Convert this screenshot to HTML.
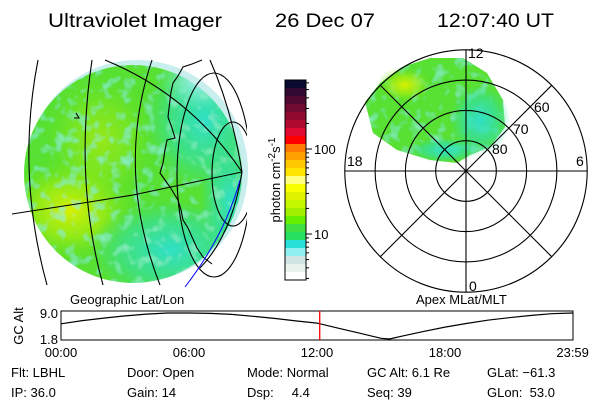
<!DOCTYPE html>
<html><head><meta charset="utf-8">
<style>
html,body{margin:0;padding:0;background:#fff;}
svg{display:block;font-family:"Liberation Sans",sans-serif;}
</style></head>
<body>
<svg width="600" height="400" viewBox="0 0 600 400" xmlns="http://www.w3.org/2000/svg">
<defs>
  <clipPath id="globeClip"><circle cx="133" cy="174" r="109"/></clipPath>
  <clipPath id="gridClip"><rect x="0" y="55" width="247" height="235"/></clipPath>
  <radialGradient id="gYel" cx="0.5" cy="0.5" r="0.5"><stop offset="0" stop-color="#d8f000"/><stop offset="0.5" stop-color="#a8ee10" stop-opacity="0.7"/><stop offset="1" stop-color="#60e020" stop-opacity="0"/></radialGradient>
  <radialGradient id="gCyan" cx="0.5" cy="0.5" r="0.5"><stop offset="0" stop-color="#30e0c8"/><stop offset="0.6" stop-color="#30e0b0" stop-opacity="0.6"/><stop offset="1" stop-color="#30e0a0" stop-opacity="0"/></radialGradient>
  <radialGradient id="gPale" cx="0.5" cy="0.5" r="0.5"><stop offset="0" stop-color="#b0f0f0"/><stop offset="1" stop-color="#80f0f0" stop-opacity="0"/></radialGradient>
  <filter id="mottle" x="0" y="0" width="1" height="1">
    <feTurbulence type="fractalNoise" baseFrequency="0.09" numOctaves="2" seed="3" result="n"/>
    <feColorMatrix in="n" type="matrix" values="0 0 0 0 0.25  0 0 0 0 0.85  0 0 0 0 0.55  0 0 0 -2.5 1.2" result="c"/>
    <feComposite in="c" in2="SourceGraphic" operator="in" result="cc"/>
    <feMerge><feMergeNode in="SourceGraphic"/><feMergeNode in="cc"/></feMerge>
  </filter>
</defs>

<!-- Title -->
<g font-size="19" fill="#000">
  <text x="48" y="27" textLength="174" lengthAdjust="spacingAndGlyphs">Ultraviolet Imager</text>
  <text x="275" y="27" textLength="100" lengthAdjust="spacingAndGlyphs">26 Dec 07</text>
  <text x="437" y="27" textLength="117" lengthAdjust="spacingAndGlyphs">12:07:40 UT</text>
</g>

<!-- Geographic globe image -->
<g>
  <circle cx="137" cy="171" r="111" fill="#c8eeee"/>
  <g clip-path="url(#globeClip)" filter="url(#mottle)">
    <rect x="20" y="60" width="230" height="230" fill="#58e030"/>
    <ellipse cx="70" cy="210" rx="70" ry="55" fill="url(#gYel)"/>
    <ellipse cx="100" cy="140" rx="60" ry="70" fill="url(#gYel)" opacity="0.5"/>
    <ellipse cx="205" cy="120" rx="60" ry="70" fill="url(#gCyan)"/>
    <ellipse cx="170" cy="250" rx="80" ry="50" fill="url(#gCyan)"/>
    <ellipse cx="200" cy="80" rx="40" ry="30" fill="url(#gPale)"/>
    <ellipse cx="230" cy="200" rx="30" ry="60" fill="url(#gCyan)"/>
  </g>
  <g fill="none" stroke="#000" stroke-width="1.1" clip-path="url(#gridClip)">
    <path d="M38,60 Q16,173 47,285"/>
    <path d="M92,60 Q74,180 103,285"/>
    <path d="M152,60 Q115,170 160,285"/>
    <path d="M210,60 Q232,110 242,172"/>
    <path d="M12,214 L83,203 L133,195 L242,172"/>
    <path d="M105,60 Q190,95 242,172"/>
    <ellipse cx="214" cy="175" rx="37" ry="102"/>
    <ellipse cx="233" cy="174" rx="21" ry="52"/>
    <path d="M242,172 Q232,235 200,268" />
    <path d="M202,60 L192,64 L183,67 L178,76 L173,83 L171,92 L170,100 L168,117 L172,128 L175,138 L167,140 L165,150 L163,163 L160,173 L165,180 L170,187 L178,200 L181,210 L183,220 L188,228 L192,237 L197,248 L203,257 L212,264"/>
    <path d="M76,113 L79,118 L74,118" />
  </g>
  <path d="M185,287 Q225,235 240,180" fill="none" stroke="#0000ff" stroke-width="1"/>
</g>

<!-- Colorbar -->
<g id="cbar"></g>
<text transform="translate(280,180) rotate(-90)" text-anchor="middle" font-size="13">photon cm<tspan dy="-5" font-size="10">-2</tspan><tspan dy="5">s</tspan><tspan dy="-5" font-size="10">-1</tspan></text>

<!-- Polar MLat/MLT plot -->
<g>
  <path d="M365,102 L380,83 L402,67 L430,58 L463,58 L487,73 L503,100 L505,127 L490,147 L470,155 L457,163 L430,160 L397,150 L373,133 Z" fill="#58e030" filter="url(#mottle)"/>
  <ellipse cx="405" cy="85" rx="28" ry="18" fill="url(#gYel)"/>
  <ellipse cx="480" cy="120" rx="30" ry="35" fill="url(#gCyan)"/>
  <ellipse cx="445" cy="150" rx="35" ry="12" fill="url(#gCyan)"/>
  <g id="polarGrid" fill="none" stroke="#000" stroke-width="1.1"></g>
  <g font-size="14" fill="#000">
    <text x="468" y="58">12</text>
    <text x="469" y="291">0</text>
    <text x="347" y="166">18</text>
    <text x="576" y="166">6</text>
    <text x="492" y="154">80</text>
    <text x="513" y="134">70</text>
    <text x="534" y="112">60</text>
  </g>
</g>

<text x="70" y="304" font-size="13">Geographic Lat/Lon</text>
<text x="416" y="304" font-size="13">Apex MLat/MLT</text>

<!-- Altitude time series -->
<g>
  <rect x="61" y="311" width="512" height="29" fill="none" stroke="#000" stroke-width="1"/>
  <g id="altLine"></g>
  <text transform="translate(23,326) rotate(-90)" text-anchor="middle" font-size="13">GC Alt</text>
  <g id="altTicks" font-size="13"></g>
</g>

<!-- Footer info -->
<g font-size="13" fill="#000">
  <text x="11" y="377">Flt: LBHL</text>
  <text x="11" y="397">IP: 36.0</text>
  <text x="127" y="377">Door: Open</text>
  <text x="127" y="397">Gain: 14</text>
  <text x="247" y="377">Mode: Normal</text>
  <text x="247" y="397" xml:space="preserve">Dsp:     4.4</text>
  <text x="367" y="377">GC Alt: 6.1 Re</text>
  <text x="367" y="397">Seq: 39</text>
  <text x="487" y="377">GLat: −61.3</text>
  <text x="487" y="397" xml:space="preserve">GLon:  53.0</text>
</g>
</svg>

<script>
const NS = "http://www.w3.org/2000/svg";
// Colorbar bands, top to bottom
const cbarColors = ["#0a0a30","#300a30","#500a30","#700a30","#900a30","#b00a30","#e00a30","#ff0000","#ff7a00","#ffa000","#ffc800","#ffe400","#ffff80","#f8ff00","#e0f200","#c4f800","#a0f000","#64f000","#40e040","#28e060","#28e0d8","#90f0f0","#d0e4e4","#e8f4ec","#ffffff"];
const cbarTickLabels = ["100","10"];
const cbarTickValues = [100, 10];
const cbarMinorValues = [200,300,400,500,600,700,20,30,40,50,60,70,80,90,3,4,5,6,7,8,9];
// Altitude time series
const altHours = [0,1,2,3,4,5,6,7,8,9,10,11,12,13,14,15,15.4,16,17,18,19,20,21,22,23,24];
const altValues = [6.0,6.9,7.6,8.2,8.7,9.0,9.0,8.9,8.6,8.1,7.5,6.8,6.2,4.8,3.4,2.0,1.8,2.6,3.9,5.1,6.1,7.0,7.7,8.3,8.8,9.0];
const altTickLabels = ["9.0","1.8"];
const altTickValues = [9.0,1.8];
const timeTickLabels = ["00:00","06:00","12:00","18:00","23:59"];
const timeTickValues = [0,6,12,18,23.983];
const currentTime = 12 + 7/60 + 40/3600;
const mlatRings = [80,70,60,50];
const mltSpokes = [0,3,6,9,12,15,18,21];

function mk(tag, attrs, parent){const e=document.createElementNS(NS,tag);for(const k in attrs)e.setAttribute(k,attrs[k]);parent.appendChild(e);return e;}

// colorbar
(function(){
  const g=document.getElementById('cbar');
  const x0=285,y0=80,w=21,h=200,bh=h/cbarColors.length;
  cbarColors.forEach((c,i)=>{
    const r=mk('rect',{x:x0,y:(y0+i*bh).toFixed(2),width:w,height:(bh+0.5).toFixed(2),fill:c},g);
    
    
  });
  const f=mk('rect',{x:x0,y:y0,width:w,height:h,fill:'none',stroke:'#000'},g);
  
  
  const lv=v=>234-(Math.log10(v)-1)*85;
  cbarTickValues.forEach((v,i)=>{
    const y=lv(v);
    mk('line',{x1:x0+w,x2:x0+w+6,y1:y,y2:y,stroke:'#000'},g);
    const t=mk('text',{x:x0+w+8,y:y+5,'font-size':13},g);
    t.textContent=cbarTickLabels[i];
    
    
  });
  cbarMinorValues.forEach(v=>{const y=lv(v); if(y>y0&&y<y0+h) mk('line',{x1:x0+w,x2:x0+w+3,y1:y,y2:y,stroke:'#000'},g);});
})();

// polar grid
(function(){
  const g=document.getElementById('polarGrid');
  const cx=466,cy=171,step=30.3;
  const rad=m=>(90-m)*step/10;
  mlatRings.forEach(m=>{
    const c=mk('circle',{cx:cx,cy:cy,r:rad(m)},g);
    
    
  });
  const R=rad(mlatRings[mlatRings.length-1]);
  mltSpokes.forEach(h=>{
    const a=h/24*2*Math.PI;
    const l=mk('line',{x1:cx,y1:cy,x2:(cx+R*Math.sin(a)).toFixed(1),y2:(cy+R*Math.cos(a)).toFixed(1)},g);
    
    
  });
})();

// altitude plot
(function(){
  const g=document.getElementById('altLine');
  const x0=61,x1=573,yT=313,yB=339,vmin=1.8,vmax=9.0;
  const xs=h=>x0+(h/24)*(x1-x0);
  const ys=v=>yB-(v-vmin)/(vmax-vmin)*(yB-yT);
  const d=altHours.map((h,i)=>(i?'L':'M')+xs(h).toFixed(1)+','+ys(altValues[i]).toFixed(1)).join(' ');
  const p=mk('path',{d:d,fill:'none',stroke:'#000','stroke-width':1.2},g);
  
  
  const rx=xs(currentTime);
  const r=mk('line',{x1:rx,x2:rx,y1:311,y2:340,stroke:'#ff0000','stroke-width':1.3},g);
  
  
  const tg=document.getElementById('altTicks');
  altTickValues.forEach((v,i)=>{
    const t=mk('text',{x:58,y:ys(v)+5,'text-anchor':'end'},tg);
    t.textContent=altTickLabels[i];
    
    
  });
  timeTickValues.forEach((v,i)=>{
    const t=mk('text',{x:xs(v),y:357,'text-anchor':'middle'},tg);
    t.textContent=timeTickLabels[i];
    
    
  });
})();
</script>
</body></html>
